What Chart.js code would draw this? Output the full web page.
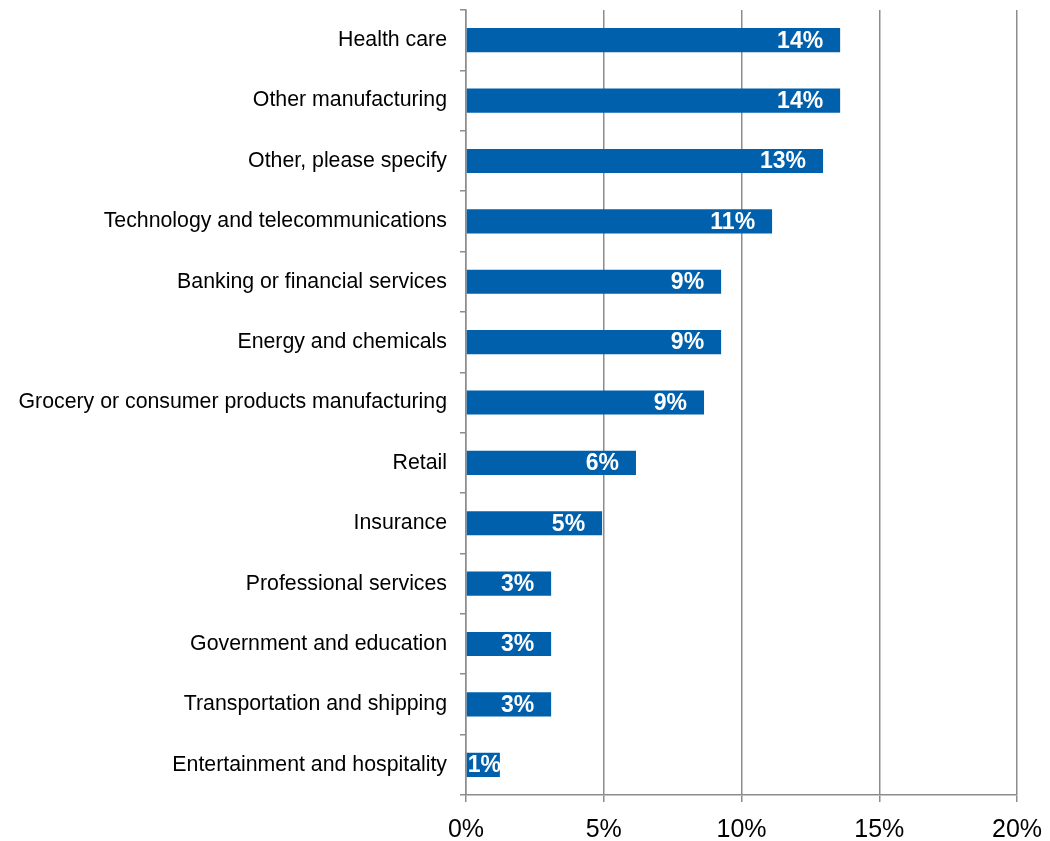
<!DOCTYPE html>
<html>
<head>
<meta charset="utf-8">
<script src="https://cdn.jsdelivr.net/npm/chart.js@4"></script>
<style>
  html, body { margin: 0; padding: 0; background: #fff; }
  #wrap { width: 1050px; height: 841px; }
</style>
</head>
<body>
<div id="wrap"><canvas id="chart"></canvas></div>
<script>
// categories top to bottom
const industries = [
  'Health care',
  'Other manufacturing',
  'Other, please specify',
  'Technology and telecommunications',
  'Banking or financial services',
  'Energy and chemicals',
  'Grocery or consumer products manufacturing',
  'Retail',
  'Insurance',
  'Professional services',
  'Government and education',
  'Transportation and shipping',
  'Entertainment and hospitality'
];
// share of respondents, in percent
const shares = [13.58, 13.58, 12.96, 11.11, 9.26, 9.26, 8.64, 6.17, 4.94, 3.09, 3.09, 3.09, 1.23];
const xTicks = [0, 5, 10, 15, 20];

const barColor = '#0060AC';
const gridColor = '#8C8C8C';

// white labels inside the end of each bar
const barLabels = {
  id: 'barLabels',
  afterDatasetsDraw(chart) {
    const ctx = chart.ctx;
    const meta = chart.getDatasetMeta(0);
    ctx.save();
    ctx.font = 'bold 23px "Liberation Sans", Arial, sans-serif';
    ctx.fillStyle = '#fff';
    ctx.textAlign = 'right';
    ctx.textBaseline = 'middle';
    meta.data.forEach((bar, i) => {
      const txt = Math.round(shares[i]) + '%';
      const w = ctx.measureText(txt).width;
      const x = Math.max(bar.x - 17, bar.base + w + 1);
      ctx.fillText(txt, x, bar.y + 1);
    });
    ctx.restore();
  }
};

new Chart(document.getElementById('chart'), {
  type: 'bar',
  data: {
    labels: industries,
    datasets: [{
      data: shares,
      backgroundColor: barColor,
      barPercentage: 0.4,
      categoryPercentage: 1.0
    }]
  },
  options: {
    indexAxis: 'y',
    responsive: true,
    maintainAspectRatio: false,
    animation: false,
    layout: { padding: { top: 10, right: 33, left: 0, bottom: 0 } },
    plugins: { legend: { display: false }, tooltip: { enabled: false } },
    scales: {
      x: {
        min: 0,
        max: 20,
        afterBuildTicks(scale) { scale.ticks = xTicks.map(v => ({ value: v })); },
        afterFit(scale) { scale.height = 46; scale.paddingLeft = 0; scale.paddingRight = 0; },
        grid: { color: gridColor, lineWidth: 1.5, tickLength: 7 },
        border: { color: gridColor, width: 1.5 },
        ticks: {
          color: '#000',
          padding: 13,
          font: { family: '"Liberation Sans", Arial, sans-serif', size: 25 },
          callback: v => v + '%'
        }
      },
      y: {
        afterFit(scale) { scale.width = 466; scale.paddingTop = 0; scale.paddingBottom = 0; },
        grid: { offset: true, drawOnChartArea: false, color: gridColor, lineWidth: 1.5, tickLength: 6 },
        border: { color: gridColor, width: 1.5 },
        ticks: {
          color: '#000',
          padding: 13,
          autoSkip: false,
          font: { family: '"Liberation Sans", Arial, sans-serif', size: 21.3 }
        }
      }
    }
  },
  plugins: [barLabels]
});
</script>
</body>
</html>
